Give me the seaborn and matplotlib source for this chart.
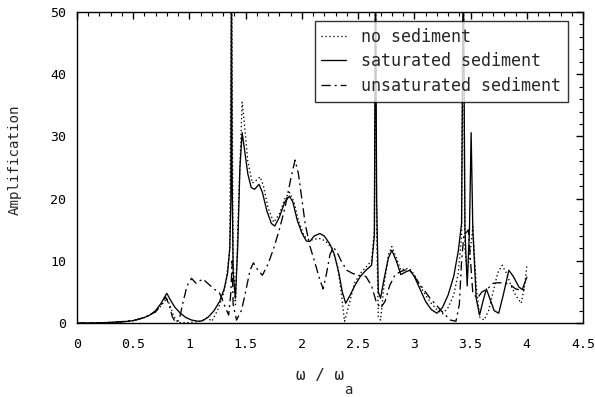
import numpy as np
import pandas as pd
import matplotlib
matplotlib.use("Agg")
import matplotlib.pyplot as plt
from matplotlib.ticker import MultipleLocator
import seaborn as sns

# ---- data ----
sat_x = [0.0, 0.2, 0.4, 0.5, 0.6, 0.65, 0.7, 0.75, 0.8, 0.83, 0.87, 0.92, 0.97, 1.02, 1.08, 1.12,
         1.17, 1.22, 1.27, 1.31, 1.34, 1.36, 1.37, 1.375, 1.38, 1.39, 1.41, 1.43, 1.45, 1.47, 1.49,
         1.52, 1.55, 1.58, 1.62, 1.65, 1.69, 1.73, 1.76, 1.80, 1.85, 1.89, 1.92, 1.96, 2.00, 2.04,
         2.07, 2.11, 2.16, 2.20, 2.25, 2.29, 2.33, 2.36, 2.39, 2.43, 2.47, 2.52, 2.57, 2.62, 2.645,
         2.655, 2.665, 2.68, 2.70, 2.73, 2.77, 2.80, 2.84, 2.88, 2.92, 2.96, 3.00, 3.05, 3.10, 3.15,
         3.20, 3.25, 3.30, 3.35, 3.39, 3.42, 3.435, 3.45, 3.47, 3.49, 3.505, 3.52, 3.55, 3.58, 3.61,
         3.64, 3.67, 3.71, 3.75, 3.79, 3.84, 3.88, 3.93, 3.96, 4.00]
sat_y = [0.0, 0.05, 0.2, 0.4, 0.9, 1.3, 2.0, 3.2, 4.8, 3.8, 2.6, 1.6, 0.9, 0.5, 0.3, 0.4,
         1.0, 2.0, 3.5, 5.5, 8.0, 12, 20, 60, 25, 8, 4, 12, 25, 30.6, 28,
         24, 21.8, 21.5, 22.3, 21, 18, 16, 15.6, 17, 19.5, 20.4, 19.5, 16.5, 14.5, 13.2,
         13.1, 14, 14.4, 14, 12.7, 11, 8, 5, 3.2, 4.5, 6, 7.5, 8.5, 9.3, 14,
         60, 20, 5, 4, 7, 10.5, 11.7, 10, 7.8, 8.2, 8.5, 7.5, 5.5, 3.5, 2.2,
         1.6, 2.5, 4.5, 7.5, 11.5, 16, 60, 15, 6, 15, 30.6, 15, 4, 1.3, 3.5,
         5.5, 4, 2.0, 1.6, 4.5, 8.5, 7.5, 5.8, 5.4, 7.4]

nos_x = [0.0, 0.2, 0.4, 0.5, 0.6, 0.7, 0.75, 0.8, 0.83, 0.86, 0.9, 1.0, 1.1, 1.16, 1.2, 1.25,
         1.3, 1.33, 1.36, 1.375, 1.39, 1.41, 1.44, 1.47, 1.49, 1.52, 1.56, 1.60, 1.63, 1.66, 1.70,
         1.75, 1.80, 1.85, 1.89, 1.93, 1.97, 2.02, 2.07, 2.12, 2.17, 2.22, 2.27, 2.32, 2.35, 2.38,
         2.42, 2.47, 2.52, 2.57, 2.62, 2.645, 2.655, 2.665, 2.68, 2.70, 2.73, 2.77, 2.80, 2.84, 2.88,
         2.92, 2.96, 3.00, 3.05, 3.10, 3.15, 3.20, 3.25, 3.30, 3.35, 3.39, 3.42, 3.435, 3.45, 3.47,
         3.50, 3.52, 3.55, 3.58, 3.62, 3.66, 3.70, 3.74, 3.78, 3.82, 3.86, 3.90, 3.95, 3.98, 4.00]
nos_y = [0.0, 0.05, 0.2, 0.4, 0.9, 1.8, 2.8, 4.0, 2.8, 1.2, 0.1, 0.1, 0.3, 0.9, 0.3, 2.0,
         4.5, 7, 12, 60, 10, 3, 20, 35.5, 32, 26, 22.5, 23, 23.5, 22, 18.5,
         16.2, 17.5, 20, 21, 19.5, 16.5, 14, 13.3, 13.5, 13.6, 13, 12, 9, 5, 0.3,
         3, 6.5, 8, 9, 10, 15, 60, 15, 1, 0.5, 6, 11, 12.3, 10.5, 8.5,
         8.8, 8.7, 7.8, 6, 4.5, 3.2, 2.2, 1.5, 2.5, 4.5, 8, 14, 60, 12, 8,
         12, 15.5, 6, 1, 0.5, 2, 5, 8, 9.3, 8, 6, 4.5, 3.2, 6, 9.3]

uns_x = [0.0, 0.3, 0.5, 0.6, 0.7, 0.75, 0.79, 0.82, 0.85, 0.88, 0.91, 0.94, 0.98, 1.02, 1.06,
         1.12, 1.17, 1.22, 1.27, 1.31, 1.35, 1.37, 1.38, 1.39, 1.42, 1.465, 1.50, 1.54, 1.57, 1.61,
         1.65, 1.70, 1.75, 1.80, 1.85, 1.90, 1.94, 1.97, 2.00, 2.03, 2.07, 2.12, 2.16, 2.19, 2.22,
         2.25, 2.28, 2.31, 2.35, 2.40, 2.45, 2.50, 2.57, 2.62, 2.66, 2.70, 2.74, 2.78, 2.83, 2.88,
         2.93, 2.97, 3.02, 3.08, 3.14, 3.20, 3.26, 3.32, 3.37, 3.40, 3.42, 3.44, 3.48, 3.52, 3.56,
         3.60, 3.65, 3.70, 3.75, 3.81, 3.85, 3.90, 3.95, 4.00]
uns_y = [0.0, 0.1, 0.4, 0.9, 1.8, 3.0, 4.2, 3.0, 1.0, 0.1, 0.5, 3, 6, 7.2, 6.4,
         7.1, 6.3, 5.5, 4.8, 3, 1.3, 5, 10, 3, 0.5, 2.1, 5, 8.5, 9.7, 8.5,
         7.7, 9.5, 12, 15, 18.5, 23, 26.2, 24, 20, 16, 12.5, 9.5, 7, 5.5, 8,
         11, 12.2, 11.5, 10, 8.5, 8, 7.7, 7.5, 6, 3.5, 2.4, 3.5, 6, 7.8, 8.3,
         8.6, 8.3, 7, 5.5, 4, 2.8, 1.6, 0.5, 0.3, 3, 10, 14, 15, 4.8, 4,
         5, 5.5, 6.4, 6.5, 6.4, 6.2, 5.5, 5.3, 5.5]

labels = ["no sediment", "saturated sediment", "unsaturated sediment"]
x_ticks = [0, 0.5, 1, 1.5, 2, 2.5, 3, 3.5, 4, 4.5]
x_tick_labels = ["0", "0.5", "1", "1.5", "2", "2.5", "3", "3.5", "4", "4.5"]
y_ticks = [0, 10, 20, 30, 40, 50]
y_tick_labels = ["0", "10", "20", "30", "40", "50"]

df = pd.concat([
    pd.DataFrame({"x": nos_x, "y": nos_y, "case": labels[0]}),
    pd.DataFrame({"x": sat_x, "y": sat_y, "case": labels[1]}),
    pd.DataFrame({"x": uns_x, "y": uns_y, "case": labels[2]}),
], ignore_index=True)

sns.set_style("white")
plt.rcParams["font.family"] = ["DejaVu Sans Mono", "DejaVu Sans"]

fig = plt.figure(figsize=(5.95, 3.97), dpi=100)
ax = fig.add_axes([0.129, 0.186, 0.851, 0.784])

styles = {labels[0]: (0, (1, 2)), labels[1]: "-", labels[2]: (0, (7, 3, 1.5, 3))}
for lab in labels:
    sub = df[df["case"] == lab]
    sns.lineplot(data=sub, x="x", y="y", ax=ax, color="black", lw=0.95,
                 linestyle=styles[lab], label=lab, sort=False, estimator=None)

ax.set_xlim(0, 4.5)
ax.set_ylim(0, 50)
ax.set_xticks(x_ticks)
ax.set_xticklabels(x_tick_labels)
ax.set_yticks(y_ticks)
ax.set_yticklabels(y_tick_labels)
ax.xaxis.set_minor_locator(MultipleLocator(0.1))
ax.yaxis.set_minor_locator(MultipleLocator(2))
ax.tick_params(which="both", direction="in", top=True, right=True, colors="black",
               labelsize=9.5)
ax.tick_params(which="major", length=5, width=1)
ax.tick_params(which="minor", length=3, width=0.8)
ax.tick_params(axis="x", pad=10.5)
ax.tick_params(axis="y", pad=7.5)
for s in ax.spines.values():
    s.set_color("black")
    s.set_linewidth(1.0)

ax.set_xlabel("")
ax.set_ylabel("Amplification", fontsize=10.2)
ax.yaxis.set_label_coords(-0.109, 0.524)
fig.text(0.538, 0.055, "ω / ω", ha="center", va="center", fontsize=11.5)
fig.text(0.585, 0.018, "a", ha="center", va="center", fontsize=10)

leg = ax.legend(loc="upper right", bbox_to_anchor=(0.970, 0.971), fontsize=12,
                frameon=True, fancybox=False, shadow=False, handlelength=1.5,
                handletextpad=0.9, borderpad=0.4, labelspacing=0.4,
                borderaxespad=0.0)
leg.get_frame().set_edgecolor("black")
leg.get_frame().set_linewidth(1.0)

fig.savefig("out.png", dpi=100, facecolor="white")
